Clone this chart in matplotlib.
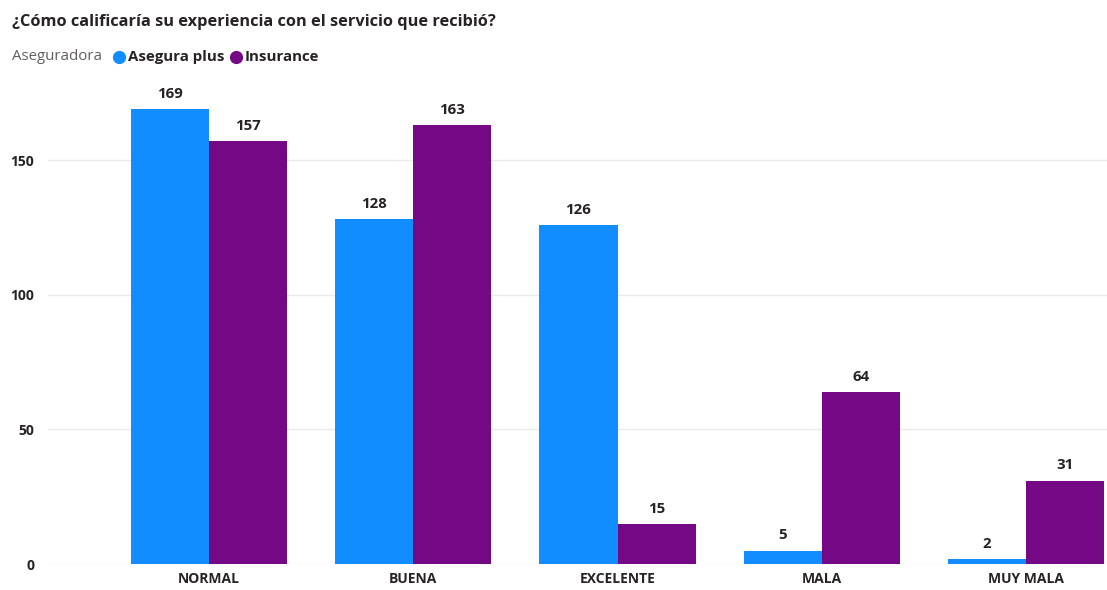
import matplotlib
matplotlib.use("Agg")
import matplotlib.pyplot as plt
import numpy as np

categories = ["NORMAL", "BUENA", "EXCELENTE", "MALA", "MUY MALA"]
asegura_plus = [169, 128, 126, 5, 2]
insurance = [157, 163, 15, 64, 31]
series_names = ["Asegura plus", "Insurance"]
colors = ["#118DFF", "#750985"]

plt.rcParams["font.family"] = ["Open Sans", "DejaVu Sans"]

W, H = 1107, 590
fig = plt.figure(figsize=(W / 100, H / 100), dpi=100)

def px(x, y):
    return x / W, 1 - y / H

left, bottom = px(48, 564)
top_y = 564 - 180 * (404 / 150)
ax = fig.add_axes([left, bottom, 1 - left, (564 - top_y) / H])

x = np.arange(len(categories))
bw = 78 / 204
bars1 = ax.bar(x - bw / 2, asegura_plus, bw, color=colors[0], zorder=3)
bars2 = ax.bar(x + bw / 2, insurance, bw, color=colors[1], zorder=3)

for bars, vals in ((bars1, asegura_plus), (bars2, insurance)):
    for b, v in zip(bars, vals):
        ax.text(b.get_x() + b.get_width() / 2, v + 3.0, str(v),
                ha="center", va="bottom", fontsize=10.8, fontweight="bold",
                color="#252423", zorder=4)

ax.set_xlim(-161 / 204, 4 + 81 / 204)
ax.set_ylim(0, 180)
ax.set_yticks([0, 50, 100, 150])
ax.set_xticks(x)
ax.set_xticklabels(categories, fontsize=10, fontweight="bold", color="#252423")
ax.tick_params(axis="both", length=0)
ax.tick_params(axis="y", labelsize=10, pad=10, labelcolor="#252423")
for lab in ax.get_yticklabels():
    lab.set_fontweight("bold")
ax.tick_params(axis="x", pad=6)
ax.yaxis.grid(True, color="#EAEAEA", linewidth=1, zorder=0)
for s in ax.spines.values():
    s.set_visible(False)
ax.set_facecolor("white")

# Title
tx, ty = px(12, 22)
fig.text(tx, ty, "¿Cómo calificaría su experiencia con el servicio que recibió?",
         fontsize=11.8, fontweight="bold", color="#252423", va="center", ha="left")

# Legend row
ly = px(0, 57)[1]
fig.text(*px(12, 57), "Aseguradora", fontsize=10.8, color="#605E5C", va="center", ha="left")
legend_items = [(119, 128, series_names[0], colors[0]), (236, 245, series_names[1], colors[1])]
for mx, tx_, name, c in legend_items:
    fig.lines.append(plt.Line2D([mx / W], [ly], marker="o", markersize=8.5, color=c,
                                linestyle="none", transform=fig.transFigure))
    fig.text(tx_ / W, ly, name, fontsize=10.8, fontweight="bold", color="#252423",
             va="center", ha="left")

fig.savefig("out.png", dpi=100, facecolor="white")
